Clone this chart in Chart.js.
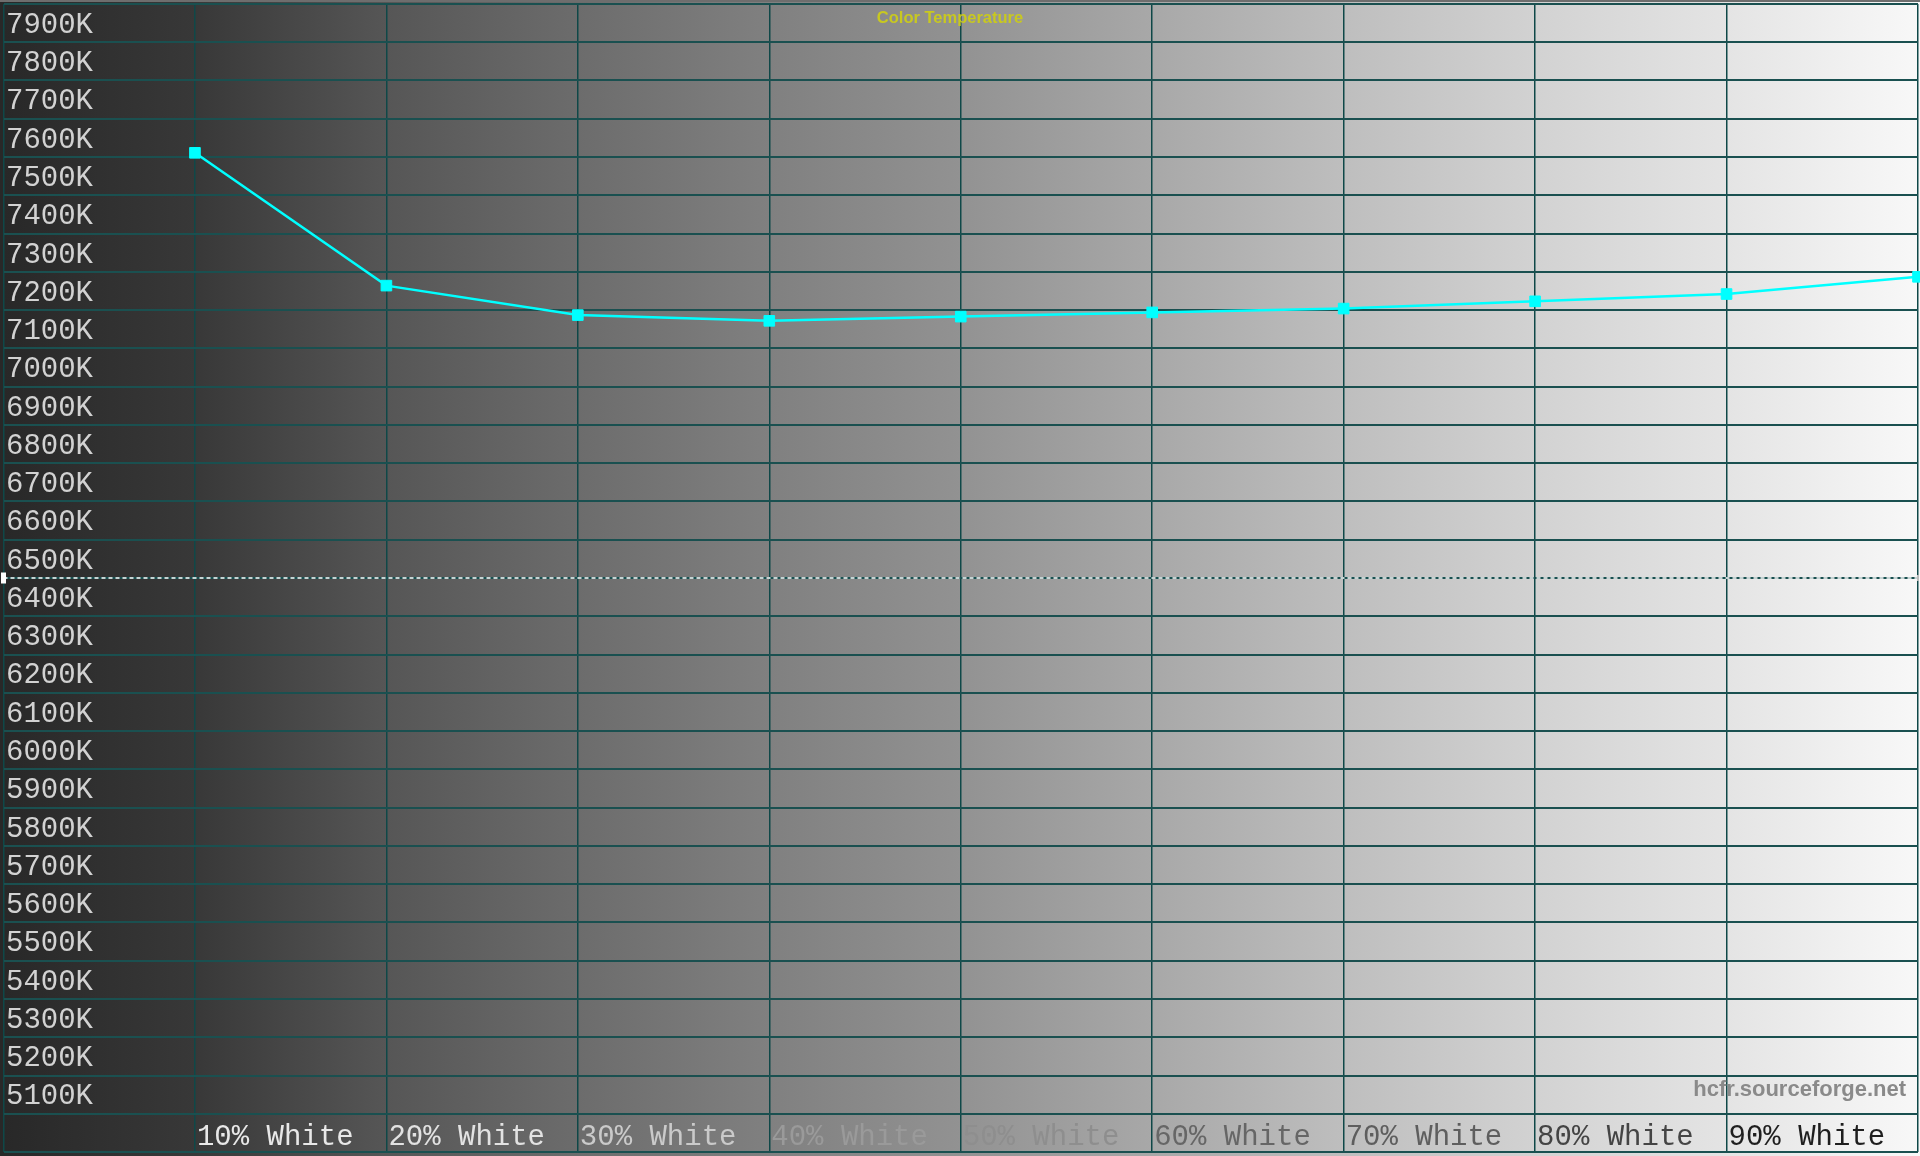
<!DOCTYPE html>
<html>
<head>
<meta charset="utf-8">
<script src="https://cdn.jsdelivr.net/npm/chart.js@4/dist/chart.umd.min.js"></script>
<style>
html,body{margin:0;padding:0;background:#262626;}
#wrap{width:1920px;height:1156px;position:relative;}
</style>
</head>
<body>
<div id="wrap"><canvas id="c" width="1920" height="1156"></canvas></div>
<script>
// ---- data ----
const chartTitle = 'Color Temperature';
const watermark = 'hcfr.sourceforge.net';
const stimulusLevels = [10, 20, 30, 40, 50, 60, 70, 80, 90, 100];
const cctValues = [7611, 7264, 7187, 7172, 7183, 7194, 7204, 7223, 7242, 7287];
const referenceCCT = 6500;
const xTickLabels = ['10% White', '20% White', '30% White', '40% White', '50% White',
                     '60% White', '70% White', '80% White', '90% White'];
const xTickColors = ['#e8e8e8', '#e2e2e2', '#cacaca', '#9a9a9a', '#8e8e8e',
                     '#666666', '#5e5e5e', '#444444', '#1e1e1e'];
const yMin = 5000, yMax = 8000, yStep = 100;
const xMin = 0, xMax = 100, xStep = 10;

const bgPlugin = {
  id: 'bg',
  beforeDraw(chart) {
    const {ctx, chartArea: a, width, height} = chart;
    const g = ctx.createLinearGradient(a.left, 0, a.right, 0);
    const stops = ['#282828', '#383838', '#565656', '#6c6c6c', '#808080', '#929292',
                   '#a8a8a8', '#bebebe', '#d2d2d2', '#e4e4e4', '#f8f8f8'];
    stops.forEach((c, i) => g.addColorStop(i / 10, c));
    ctx.save();
    ctx.fillStyle = g;
    ctx.fillRect(0, 0, width, height);
    ctx.fillStyle = '#6e6e6e';
    ctx.fillRect(0, 0, width, 2);
    ctx.restore();
  },
  afterDatasetsDraw(chart) {
    const {ctx} = chart;
    ctx.save();
    ctx.textBaseline = 'middle';
    ctx.textAlign = 'center';
    ctx.fillStyle = '#c8c820';
    ctx.font = 'bold 16.5px "Liberation Sans", Arial, sans-serif';
    ctx.fillText(chartTitle, 950, 18);
    ctx.textAlign = 'right';
    ctx.fillStyle = '#8a8a8a';
    ctx.font = 'bold 22px "Liberation Sans", Arial, sans-serif';
    ctx.fillText(watermark, 1906, 1090);
    ctx.restore();
  }
};

const ctx = document.getElementById('c').getContext('2d');
new Chart(ctx, {
  type: 'line',
  data: {
    datasets: [
      {
        data: stimulusLevels.map((x, i) => ({x: x, y: cctValues[i]})),
        borderColor: '#00ffff',
        backgroundColor: '#00ffff',
        borderWidth: 2.5,
        pointStyle: 'rect',
        pointRadius: 7.5,
        pointBorderWidth: 1,
        pointBorderColor: '#00ffff',
        pointBackgroundColor: '#00ffff',
        tension: 0,
        clip: 10,
        order: 0
      },
      {
        data: [{x: xMin, y: referenceCCT}, {x: xMax, y: referenceCCT}],
        borderColor: '#ffffff',
        borderWidth: 1.5,
        borderDash: [4, 3],
        pointStyle: 'line',
        rotation: 90,
        pointRadius: [5.5, 3],
        pointBorderWidth: [5, 2],
        pointBorderColor: ['#ffffff', '#bbbbbb'],
        tension: 0,
        clip: 10,
        order: 1
      }
    ]
  },
  options: {
    responsive: false,
    animation: false,
    events: [],
    layout: {autoPadding: false, padding: {left: -1.5, right: 2, top: 0, bottom: 3}},
    plugins: {legend: {display: false}, tooltip: {enabled: false}, title: {display: false}},
    scales: {
      x: {
        type: 'linear',
        min: xMin, max: xMax,
        position: 'bottom',
        border: {display: false},
        grid: {color: '#0f4848', lineWidth: 1.5, drawTicks: false},
        ticks: {
          stepSize: xStep,
          autoSkip: false,
          maxRotation: 0,
          minRotation: 0,
          mirror: true,
          padding: 0,
          align: 'start',
          labelOffset: 2,
          font: {family: '"Liberation Mono", "DejaVu Sans Mono", monospace', size: 29, lineHeight: 1.0},
          color: (c) => {
            const i = Math.round(c.tick.value / xStep) - 1;
            return xTickColors[i] || '#ffffff';
          },
          callback: (v) => {
            const i = Math.round(v / xStep) - 1;
            return xTickLabels[i] !== undefined ? xTickLabels[i] : '';
          }
        }
      },
      y: {
        type: 'linear',
        min: yMin, max: yMax,
        position: 'left',
        border: {display: false},
        grid: {color: '#1a5050', lineWidth: 2, drawTicks: false},
        ticks: {
          stepSize: yStep,
          autoSkip: false,
          mirror: true,
          padding: 2.5,
          labelOffset: -17,
          color: '#d2d2d2',
          font: {family: '"Liberation Mono", "DejaVu Sans Mono", monospace', size: 29, lineHeight: 0.1},
          callback: (v) => (v > yMin && v < yMax) ? v + 'K' : ''
        }
      }
    }
  },
  plugins: [bgPlugin]
});
</script>
</body>
</html>
